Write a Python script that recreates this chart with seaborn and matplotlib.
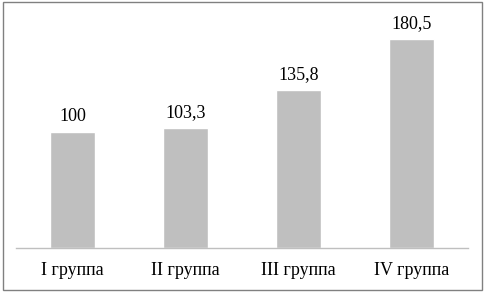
import matplotlib
matplotlib.use("Agg")
import matplotlib.pyplot as plt
from matplotlib.patches import Rectangle
import pandas as pd
import seaborn as sns

groups = ["I группа", "II группа", "III группа", "IV группа"]
values = [100, 103.3, 135.8, 180.5]
value_labels = ["100", "103,3", "135,8", "180,5"]

sns.set_style("white")
plt.rcParams["font.family"] = ["Liberation Serif", "DejaVu Serif"]

df = pd.DataFrame({"group": groups, "value": values})

fig = plt.figure(figsize=(4.85, 2.92), dpi=100)
ax = fig.add_axes([0.033, 0.151, 0.932, 0.794])

sns.barplot(data=df, x="group", y="value", color="#BFBFBF", saturation=1,
            width=0.4, ax=ax)

for patch, lab in zip(ax.patches, value_labels):
    ax.annotate(lab, (patch.get_x() + patch.get_width() / 2, patch.get_height()),
                xytext=(0, 5), textcoords="offset points",
                ha="center", va="bottom", fontsize=13, color="#000000")

ax.set_xlim(-0.5, 3.5)
ax.set_ylim(0, 200)
ax.set_xlabel("")
ax.set_ylabel("")
ax.set_yticks([])
ax.tick_params(axis="x", length=0, pad=10, labelsize=13, colors="#000000")
for side in ["top", "left", "right"]:
    ax.spines[side].set_visible(False)
ax.spines["bottom"].set_color("#BFBFBF")
ax.spines["bottom"].set_linewidth(1)

fig.patches.append(Rectangle((0.006, 0.007), 0.988, 0.986, transform=fig.transFigure,
                             fill=False, edgecolor="#808080", linewidth=1))

fig.savefig("out.png", dpi=100)
